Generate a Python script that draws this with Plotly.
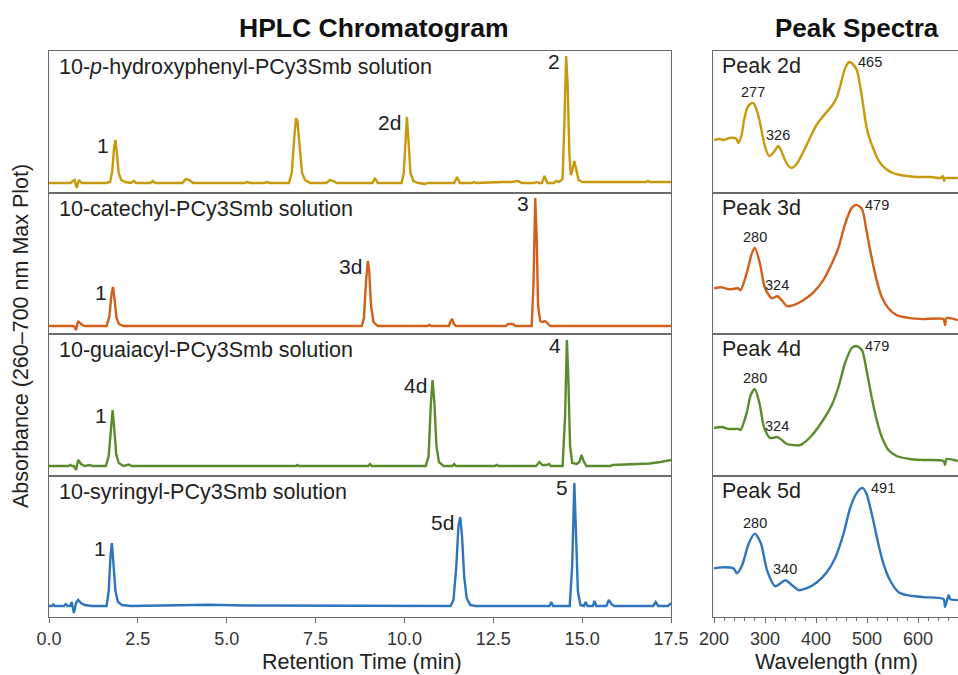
import plotly.graph_objects as go

# ---------------- DATA ----------------
# HPLC chromatograms: retention time (min) and relative absorbance
hp_time = [0.00, 0.60, 0.72, 0.78, 0.84, 0.92, 1.20, 1.60, 1.72, 1.78, 1.83, 1.87, 1.91, 1.96, 2.03, 2.15,
           2.30, 2.38, 2.46, 2.85, 2.92, 3.00, 3.75, 3.85, 3.95, 4.05, 5.50, 5.58, 5.66, 6.05, 6.12, 6.20,
           6.75, 6.83, 6.90, 6.95, 6.99, 7.05, 7.12, 7.20, 7.35, 7.80, 7.90, 8.00, 8.10, 9.10, 9.17, 9.25,
           9.92, 9.98, 10.03, 10.07, 10.11, 10.17, 10.25, 10.40, 10.58, 10.65, 11.40, 11.48, 11.56, 11.90,
           11.96, 12.02, 12.75, 13.00, 13.20, 13.30, 13.65, 13.72, 13.78, 13.87, 13.94, 14.02, 14.20, 14.27,
           14.35, 14.45, 14.50, 14.55, 14.59, 14.64, 14.68, 14.72, 14.78, 14.84, 14.90, 15.00, 15.40, 16.00,
           16.80, 16.85, 16.90, 17.50]
hp_abs = [0, 0, 3, -5, 3, 0, 0, 0, 1, 12, 35, 43, 30, 10, 3, 1,
          0, 2, 0, 0, 2, 0, 0, 4, 3, 0, 0, 1, 0, 0, 1, 0,
          0, 10, 45, 65, 62, 35, 10, 3, 0, 0, 3, 2, 0, 0, 5, 0,
          0, 10, 50, 66, 45, 10, 2, 0, -1, 0, 0, 6, 0, 0,
          1, 0, 1, 1, 2, 0, 0, 1, 0, 0, 7, 0, 0, 2,
          1, 4, 60, 127, 100, 30, 8, 12, 22, 12, 3, 1, 1, 1,
          1, 2, 1, 1]

cat_time = [0.00, 0.70, 0.76, 0.82, 0.90, 1.00, 1.62, 1.70, 1.76, 1.80, 1.84, 1.90, 1.97, 2.10,
            8.80, 8.86, 8.92, 8.97, 9.01, 9.06, 9.13, 9.25, 10.65, 10.70, 10.75, 11.25, 11.30, 11.34,
            11.39, 11.45, 12.85, 12.92, 13.05, 13.12, 13.58, 13.63, 13.68, 13.72, 13.76, 13.82, 13.88,
            13.96, 14.02, 14.10, 17.50]
cat_abs = [0, 0, -4, 5, 2, 0, 0, 10, 32, 39, 28, 8, 2, 0,
           0, 8, 45, 65, 55, 20, 4, 0, 0, 1, 0, 0, 5, 7,
           2, 0, 0, 2, 2, 0, 0, 40, 128, 90, 20, 5, 4,
           5, 3, 0, 0]

gua_time = [0.00, 0.55, 0.60, 0.65, 0.70, 0.76, 0.82, 0.90, 1.00, 1.15, 1.22, 1.60, 1.68, 1.74, 1.79,
            1.83, 1.89, 1.96, 2.10, 2.25, 2.32, 6.95, 6.99, 7.03, 8.98, 9.03, 9.08, 10.60, 10.68, 10.74,
            10.79, 10.84, 10.90, 10.97, 11.10, 11.35, 11.40, 11.45, 12.55, 12.60, 12.65, 13.70, 13.80,
            13.88, 14.00, 14.07, 14.12, 14.45, 14.52, 14.57, 14.61, 14.66, 14.72, 14.85, 14.92, 14.98,
            15.04, 15.12, 15.80, 15.85, 16.50, 16.90, 17.20, 17.50]
gua_abs = [0, 0, 1, 0, 0, -4, 6, 2, 0, 1, 0, 0, 10, 40, 56,
           40, 12, 3, 0, 1.5, 0, 0, 1, 0, 0, 2, 0, 0, 10, 60,
           86, 65, 20, 4, 0, 0, 2, 0, 0, 1, 0, 0, 4,
           1, 1, 2, 0, 0, 50, 126, 90, 20, 3, 2, 4, 11,
           5, 0, 0, 1, 1.5, 2.5, 4, 6]

syr_time = [0.00, 0.08, 0.12, 0.16, 0.42, 0.47, 0.52, 0.60, 0.64, 0.70, 0.76, 0.82, 0.90, 1.00, 1.20,
            1.62, 1.68, 1.73, 1.77, 1.81, 1.87, 1.94, 2.05, 2.30, 3.50, 4.50, 5.50, 7.00, 9.00, 11.30,
            11.38, 11.46, 11.52, 11.57, 11.62, 11.68, 11.75, 11.85, 12.00, 14.08, 14.13, 14.18, 14.65,
            14.72, 14.78, 14.83, 14.88, 14.95, 15.05, 15.10, 15.15, 15.30, 15.35, 15.40, 15.68, 15.75,
            15.82, 15.90, 17.00, 17.07, 17.14, 17.42, 17.48, 17.50]
syr_abs = [0, 0, 1.5, 0, 0, 2, 0, 0, 4, -7, 3, 6, 3, 1, 0,
           0, 15, 50, 63, 45, 15, 4, 1, 0, 0.5, 1.2, 0.5, 0.3, 0, 0,
           6, 40, 80, 89, 70, 30, 8, 1, 0, 0, 4, 0, 0,
           40, 123, 70, 15, 1, 0, 4, 0, 0, 5, 0, 0, 6,
           2, 0, 0, 4, 0, 0, 3, 3]

# Peak spectra: wavelength (nm) and relative absorbance
sp2d_wl = [200, 210, 220, 230, 240, 244, 248, 254, 259, 265, 271, 277, 283, 289, 295, 300, 308, 314, 320,
           326, 332, 339, 346, 352, 362, 375, 388, 401, 411, 421, 431, 441, 448, 454, 460, 465, 472, 480,
           490, 499, 506, 512, 520, 529, 540, 551, 565, 578, 600, 625, 645, 649, 651, 653, 660, 678]
sp2d_abs = [53, 54, 53, 55, 55, 54, 50, 58, 73, 85, 89, 90, 84, 73, 58, 46, 37, 39, 43,
            47, 42, 33, 27, 25, 29, 41, 55, 68, 75, 81, 87, 96, 108, 120, 128, 131, 129, 123,
            96, 66, 53, 45, 35, 28, 23, 20, 18, 17, 16, 16, 15, 17, 12, 15, 15, 15]

sp3d_wl = [200, 215, 230, 248, 252, 264, 274, 280, 290, 300, 313, 324, 333, 343, 356, 375, 395, 414, 431,
           444, 457, 470, 479, 490, 499, 509, 519, 529, 542, 558, 584, 610, 650, 653, 656, 678]
sp3d_abs = [46, 47, 45, 46, 44, 61, 81, 87, 71, 46, 36, 38, 34, 28, 29, 34, 42, 54, 71,
            87, 111, 127, 130, 126, 104, 77, 54, 37, 26, 19, 16, 15, 15, 9, 16, 14]

sp4d_wl = [200, 215, 230, 248, 252, 264, 272, 280, 289, 298, 310, 324, 333, 343, 369, 389, 414, 431, 444,
           457, 470, 479, 490, 499, 509, 519, 529, 542, 558, 584, 610, 650, 653, 656, 678]
sp4d_abs = [48, 49, 47, 47, 46, 63, 81, 87, 73, 49, 38, 39, 36, 32, 31, 39, 56, 71, 89,
            113, 128, 130, 126, 106, 79, 56, 39, 26, 20, 17, 16, 15, 11, 17, 15]

sp5d_wl = [200, 215, 238, 245, 255, 268, 280, 292, 304, 320, 333, 340, 353, 366, 382, 402, 421, 438, 454,
           467, 480, 491, 499, 511, 522, 532, 545, 562, 578, 610, 650, 653, 660, 663, 678]
sp5d_abs = [49, 50, 49, 44, 52, 74, 84, 74, 47, 31, 35, 37, 32, 27, 29, 35, 45, 60, 84,
            110, 125, 130, 124, 100, 74, 54, 37, 25, 22, 20, 18, 10, 22, 18, 17]

chrom_names = ["10-<i>p</i>-hydroxyphenyl-PCy3Smb solution", "10-catechyl-PCy3Smb solution",
               "10-guaiacyl-PCy3Smb solution", "10-syringyl-PCy3Smb solution"]
chrom_peak_labels = [["1", "2d", "2"], ["1", "3d", "3"], ["1", "4d", "4"], ["1", "5d", "5"]]
chrom_peak_times = [[1.87, 10.07, 14.55], [1.80, 8.97, 13.68], [1.79, 10.79, 14.57], [1.77, 11.57, 14.78]]
spec_names = ["Peak 2d", "Peak 3d", "Peak 4d", "Peak 5d"]
spec_peak_wl = [[277, 326, 465], [280, 324, 479], [280, 324, 479], [280, 340, 491]]

time_ticks = [0.0, 2.5, 5.0, 7.5, 10.0, 12.5, 15.0, 17.5]
wl_ticks = [200, 300, 400, 500, 600]

colors = ["#C8990C", "#D0601C", "#5A8C2E", "#2E75BE"]

# ---------------- LAYOUT ----------------
W, H = 958, 675
left_x = (49, 671)
right_x = (713, 958)
panel_y = [(51, 193), (193, 334), (334, 476), (476, 617)]
chrom_yrange = [[-10, 132], [-8, 133], [-10, 132], [-11, 130]]
spec_yrange = [0, 142]
font_fam = "Liberation Sans, Arial, sans-serif"
line_col = "#6b6b6b"
txt_col = "#222"


def px(x):
    return x / W


def py(y):
    return 1 - y / H


chrom = [(hp_time, hp_abs), (cat_time, cat_abs), (gua_time, gua_abs), (syr_time, syr_abs)]
spec = [(sp2d_wl, sp2d_abs), (sp3d_wl, sp3d_abs), (sp4d_wl, sp4d_abs), (sp5d_wl, sp5d_abs)]

fig = go.Figure()
layout = dict(width=W, height=H, autosize=False, margin=dict(l=0, r=0, t=0, b=0, pad=0, autoexpand=False),
              paper_bgcolor="white", plot_bgcolor="white", showlegend=False,
              font=dict(family=font_fam, color=txt_col))
annotations = []


def nearest(xs, ys, x0, win):
    best = None
    for x, y in zip(xs, ys):
        if abs(x - x0) <= win and (best is None or y > best):
            best = y
    return best


for i in range(4):
    a = i + 1
    b = i + 5
    xa = "x" if a == 1 else f"x{a}"
    ya = "y" if a == 1 else f"y{a}"
    xb, yb = f"x{b}", f"y{b}"
    t, v = chrom[i]
    fig.add_trace(go.Scatter(x=t, y=v, mode="lines", line=dict(color=colors[i], width=2.4),
                             xaxis=xa, yaxis=ya, hoverinfo="skip"))
    w, s = spec[i]
    fig.add_trace(go.Scatter(x=w, y=s, mode="lines",
                             line=dict(color=colors[i], width=2.4, shape="spline", smoothing=0.7),
                             xaxis=xb, yaxis=yb, hoverinfo="skip"))
    ydom = [py(panel_y[i][1]), py(panel_y[i][0])]
    bottom = i == 3
    kx = "xaxis" if a == 1 else f"xaxis{a}"
    ky = "yaxis" if a == 1 else f"yaxis{a}"
    layout[kx] = dict(domain=[px(left_x[0]), px(left_x[1])], range=[0, 17.5], anchor=ya,
                      automargin=False,
                      showgrid=False, zeroline=False, showline=True, linecolor=line_col, linewidth=1,
                      mirror=True, showticklabels=bottom, ticks="outside" if bottom else "",
                      tickvals=time_ticks, ticktext=[f"{v:.1f}" for v in time_ticks],
                      ticklen=5, tickcolor=line_col,
                      tickfont=dict(size=18, color="#333", family=font_fam))
    layout[ky] = dict(domain=ydom, range=chrom_yrange[i], anchor=xa, showgrid=False, zeroline=False,
                      automargin=False,
                      showline=True, linecolor=line_col, linewidth=1, mirror=True,
                      showticklabels=False, ticks="")
    layout[f"xaxis{b}"] = dict(domain=[px(right_x[0]), px(right_x[1])], range=[198, 678.4], anchor=yb,
                               automargin=False,
                               showgrid=False, zeroline=False, showline=True, linecolor=line_col,
                               linewidth=1, mirror=True, showticklabels=bottom,
                               ticks="outside" if bottom else "", tickvals=wl_ticks, ticklen=5,
                               tickcolor=line_col,
                               tickfont=dict(size=18, color="#333", family=font_fam),
                               minor=dict(dtick=20, tick0=200, ticks="outside" if bottom else "",
                                          ticklen=3, tickcolor=line_col))
    layout[f"yaxis{b}"] = dict(domain=ydom, range=spec_yrange, anchor=xb, showgrid=False,
                               automargin=False,
                               zeroline=False, showline=True, linecolor=line_col, linewidth=1,
                               mirror=False, showticklabels=False, ticks="")
    # panel labels
    annotations.append(dict(text=chrom_names[i], x=px(57), y=py(panel_y[i][0] + 16), xref="paper",
                            yref="paper", xanchor="left", yanchor="middle", showarrow=False,
                            font=dict(size=21.5, color=txt_col)))
    annotations.append(dict(text=spec_names[i], x=px(720), y=py(panel_y[i][0] + 15), xref="paper",
                            yref="paper", xanchor="left", yanchor="middle", showarrow=False,
                            font=dict(size=21.5, color=txt_col)))
    # peak labels on chromatograms
    for lab, tp in zip(chrom_peak_labels[i], chrom_peak_times[i]):
        hv = nearest(t, v, tp, 0.06)
        annotations.append(dict(text=lab, x=tp, y=hv, xref=xa, yref=ya, xanchor="right",
                                yanchor="middle", xshift=-4, yshift=-5, showarrow=False,
                                font=dict(size=21, color=txt_col)))
    # wavelength labels on spectra
    for k, wl in enumerate(spec_peak_wl[i]):
        hv = nearest(w, s, wl, 6)
        if k < 2:
            annotations.append(dict(text=str(wl), x=wl, y=hv, xref=xb, yref=yb, xanchor="center",
                                    yanchor="bottom", yshift=1, showarrow=False,
                                    font=dict(size=14.5, color=txt_col)))
        else:
            annotations.append(dict(text=str(wl), x=wl, y=hv, xref=xb, yref=yb, xanchor="left",
                                    yanchor="middle", xshift=7, showarrow=False,
                                    font=dict(size=14.5, color=txt_col)))

# titles
annotations.append(dict(text="<b>HPLC Chromatogram</b>", x=px(373), y=py(28), xref="paper", yref="paper",
                        xanchor="center", yanchor="middle", showarrow=False,
                        font=dict(size=26.5, color="#111", family=font_fam)))
annotations.append(dict(text="<b>Peak Spectra</b>", x=px(857), y=py(28), xref="paper", yref="paper",
                        xanchor="center", yanchor="middle", showarrow=False,
                        font=dict(size=26, color="#111", family=font_fam)))
annotations.append(dict(text="Retention Time (min)", x=px(362), y=py(662), xref="paper", yref="paper",
                        xanchor="center", yanchor="middle", showarrow=False,
                        font=dict(size=21.5, color=txt_col)))
annotations.append(dict(text="Wavelength (nm)", x=px(836), y=py(662), xref="paper", yref="paper",
                        xanchor="center", yanchor="middle", showarrow=False,
                        font=dict(size=21.5, color=txt_col)))
annotations.append(dict(text="Absorbance (260–700 nm Max Plot)", x=px(21), y=py(336), xref="paper",
                        yref="paper", xanchor="center", yanchor="middle", textangle=-90,
                        showarrow=False, font=dict(size=21.5, color=txt_col)))

layout["annotations"] = annotations
fig.update_layout(**layout)
fig.write_html("out.html")
